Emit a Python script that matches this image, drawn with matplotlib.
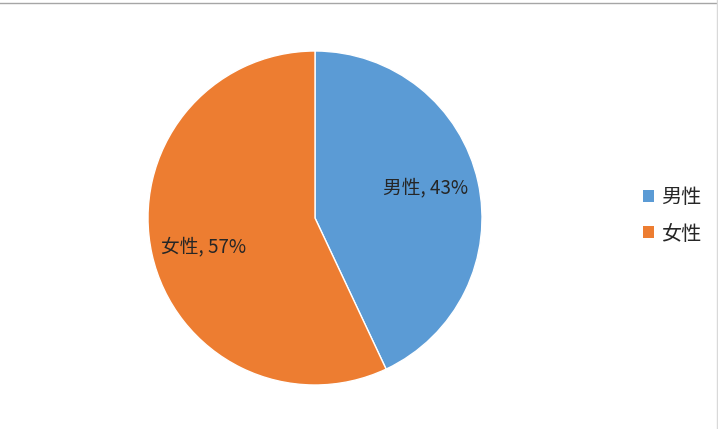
import matplotlib
matplotlib.use("Agg")
import matplotlib.pyplot as plt
from matplotlib.patches import Patch
from matplotlib.lines import Line2D

plt.rcParams["font.family"] = ["Noto Sans CJK SC", "DejaVu Sans"]

labels = ["男性", "女性"]
shares = [43, 57]
colors = ["#5B9BD5", "#ED7D31"]

W, H = 718, 429
fig = plt.figure(figsize=(W / 100, H / 100), dpi=100)

# pie centre (315, 218) px, radius 167 px
cx, cy, r = 315, 218, 167
ax = fig.add_axes([(cx - r) / W, (H - cy - r) / H, 2 * r / W, 2 * r / H])
wedges, _ = ax.pie(shares, colors=colors, startangle=90, counterclock=False,
                   radius=1.0, wedgeprops=dict(edgecolor="white", linewidth=1))
ax.set_xlim(-1, 1)
ax.set_ylim(-1, 1)
ax.set_aspect("equal")
ax.axis("off")

# data labels
label_pos = [(0.66, 0.18), (-0.67, -0.17)]
for (x, y), name, val in zip(label_pos, labels, shares):
    ax.text(x, y, f"{name}, {val}%", ha="center", va="center",
            fontsize=13.5, color="#262626")

# legend
handles = [Patch(facecolor=c, edgecolor="none") for c in colors]
fig.legend(handles, labels, loc="center left",
           bbox_to_anchor=(625 / W, 1 - 216 / H), frameon=False,
           fontsize=14.5, handlelength=0.55, handleheight=0.55,
           handletextpad=0.35, labelspacing=0.75, labelcolor="#262626")

# thin frame lines of the chart area
fig.add_artist(Line2D([0, 1], [1 - 3 / H, 1 - 3 / H], color="#a6a6a6", lw=1))
fig.add_artist(Line2D([1 - 1 / W, 1 - 1 / W], [0, 1], color="#d9d9d9", lw=1))

fig.savefig("out.png", dpi=100)
plt.close(fig)
